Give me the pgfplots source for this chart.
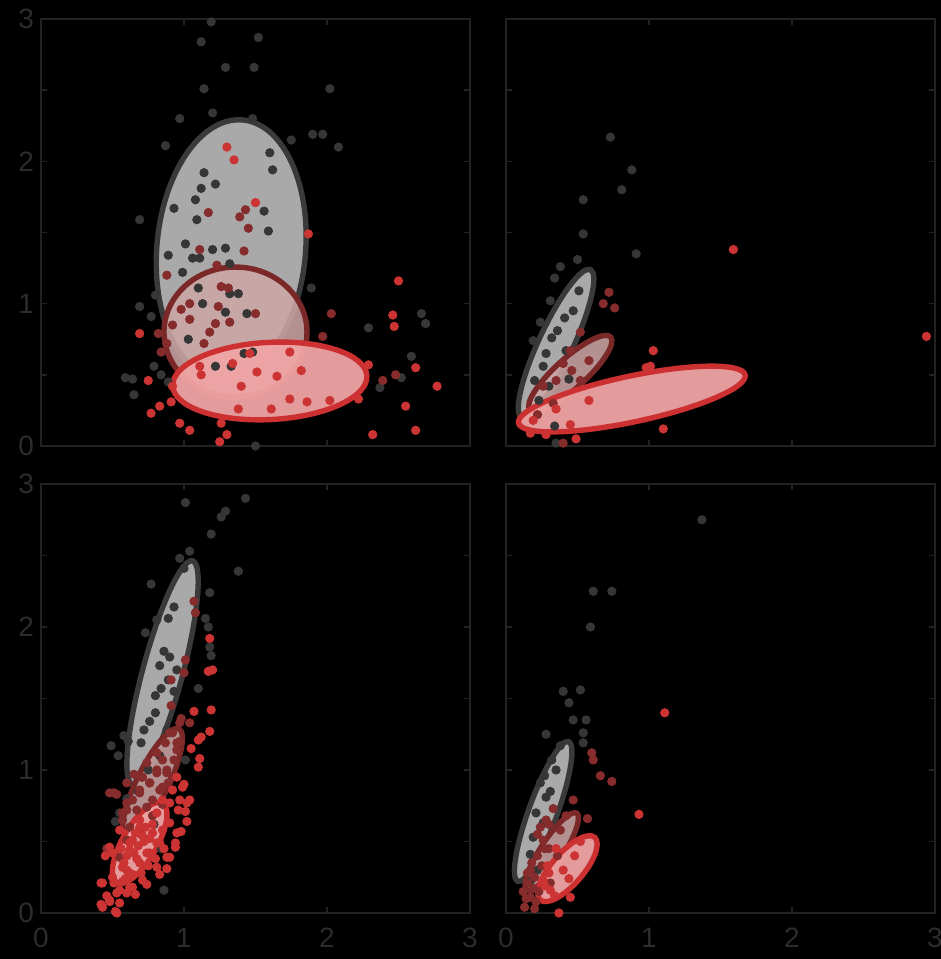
\documentclass[border=0pt]{standalone}
\usepackage{fontspec}
\setmainfont{Liberation Sans}
\usepackage{pgfplots}
\pgfplotsset{compat=1.18}
\definecolor{framec}{HTML}{222222}
\definecolor{ticklab}{HTML}{2C2C2C}
\definecolor{ptgray}{HTML}{363636}
\definecolor{ptdred}{HTML}{862C2C}
\definecolor{ptred}{HTML}{CC3434}
\definecolor{egfill}{HTML}{A9A9A9}
\definecolor{egedge}{HTML}{3A3A3A}
\definecolor{edfill}{HTML}{CCA6A6}
\definecolor{ededge}{HTML}{7A2828}
\definecolor{erfill}{HTML}{F0A4A4}
\definecolor{eredge}{HTML}{CC3030}
\def\U{71.5pt}
\newcommand\GE[5]{\filldraw[fill=egfill, draw=egedge, line width=2.7pt] (axis cs:#1,#2) ellipse [x radius=#3*\U, y radius=#4*\U, rotate=#5];}
\newcommand\DE[5]{\filldraw[fill=edfill, fill opacity=0.88, draw=ededge, line width=2.7pt] (axis cs:#1,#2) ellipse [x radius=#3*\U, y radius=#4*\U, rotate=#5];}
\newcommand\RE[5]{\filldraw[fill=erfill, fill opacity=0.95, draw=eredge, line width=2.7pt] (axis cs:#1,#2) ellipse [x radius=#3*\U, y radius=#4*\U, rotate=#5];}
\pgfplotsset{panel/.style={
  scale only axis, width=214.5pt, height=213.5pt,
  xmin=0, xmax=3, ymin=0, ymax=3,
  axis line style={draw=framec, line width=1pt},
  tick style={draw=framec, line width=0.8pt},
  major tick length=3pt, minor tick length=3pt,
  tick align=inside,
  xtick={0,1,2,3}, ytick={0,1,2,3}, minor ytick={0.5,1.5,2.5},
  ticklabel style={font=\fontsize{14}{16}\selectfont, text=ticklab},
  xticklabel style={yshift=-4pt},
  /pgf/number format/assume math mode=true,
  clip=false, anchor=south west,
},
gp/.style={only marks, mark=*, mark size=2.1pt, color=ptgray},
dp/.style={only marks, mark=*, mark size=2.1pt, color=ptdred},
rp/.style={only marks, mark=*, mark size=2.1pt, color=ptred},
}
\begin{document}
\begin{tikzpicture}
\fill[black] (0,0) rectangle (470.5pt,479.5pt);
% ---------------- top left
\begin{axis}[panel, at={(20.5pt,256.5pt)}, xticklabels={}]
\GE{1.33}{1.38}{0.91}{0.52}{85}
\addplot[gp] table {
1.19 2.98
1.12 2.84
1.52 2.87
1.29 2.66
1.49 2.66
1.14 2.51
2.02 2.51
1.20 2.34
0.97 2.30
1.48 2.30
0.87 2.11
1.75 2.15
1.90 2.19
1.97 2.19
2.08 2.10
1.60 2.06
1.62 1.94
1.14 1.92
1.12 1.81
1.22 1.84
1.08 1.73
0.93 1.67
1.09 1.59
0.69 1.59
1.56 1.65
1.59 1.51
1.01 1.42
0.89 1.34
1.20 1.38
1.29 1.39
1.06 1.32
1.11 1.32
1.32 1.28
0.99 1.22
1.89 1.11
1.10 1.11
1.32 1.07
1.38 1.07
1.13 1.00
0.80 1.06
0.69 0.98
0.77 0.91
1.29 0.94
1.44 0.93
2.66 0.93
2.69 0.86
2.29 0.83
1.03 0.75
2.59 0.63
0.59 0.48
0.65 0.36
2.37 0.41
2.52 0.48
1.50 0.00
0.79 0.56
0.84 0.50
1.42 0.65
1.48 0.66
1.33 0.56
1.22 0.56
0.64 0.47
0.89 0.45
};
\DE{1.36}{0.80}{0.50}{0.455}{0}
\addplot[dp] table {
1.43 1.66
1.39 1.61
1.45 1.53
1.17 1.64
1.11 1.38
1.42 1.37
1.23 1.27
1.26 1.12
1.31 1.11
0.88 1.20
1.04 1.00
0.98 0.96
1.24 0.98
1.50 0.93
1.04 0.89
1.32 0.87
1.22 0.86
2.03 0.93
0.82 0.79
1.18 0.80
1.97 0.77
1.14 0.72
0.84 0.66
2.39 0.46
2.48 0.50
0.88 0.72
0.92 0.85
};
\RE{1.60}{0.457}{0.68}{0.27}{3}
\addplot[rp] table {
0.75 0.46
0.77 0.23
0.83 0.28
0.91 0.31
0.97 0.16
1.04 0.11
1.26 0.16
1.30 0.08
1.25 0.03
1.74 0.33
1.86 0.31
2.02 0.32
2.22 0.33
2.55 0.28
2.32 0.08
2.62 0.11
1.61 0.26
1.38 0.26
1.40 0.42
1.12 0.50
1.51 0.52
1.65 0.49
1.82 0.53
0.92 0.42
1.46 0.65
1.74 0.66
1.11 0.56
1.34 0.58
2.50 1.16
2.46 0.92
2.47 0.84
2.77 0.42
2.62 0.55
2.29 0.57
0.69 0.79
1.30 2.10
1.35 2.01
1.50 1.71
1.87 1.49
};
\end{axis}
% ---------------- top right
\begin{axis}[panel, at={(253pt,256.5pt)}, xticklabels={}, yticklabels={}]
\GE{0.35}{0.72}{0.57}{0.12}{65}
\addplot[gp] table {
0.73 2.17
0.88 1.94
0.81 1.80
0.54 1.73
0.54 1.49
0.91 1.35
0.50 1.31
0.38 1.26
0.34 1.18
0.51 1.09
0.41 0.90
0.36 0.81
0.24 0.87
0.19 0.74
0.32 0.76
0.28 0.65
0.26 0.56
0.20 0.46
0.34 0.14
0.35 0.02
0.30 0.42
0.44 0.47
0.23 0.32
0.42 0.67
0.47 0.95
0.31 1.02
};
\DE{0.45}{0.51}{0.38}{0.105}{42}
\addplot[dp] table {
0.72 1.08
0.68 1.00
0.76 0.97
0.52 0.80
0.45 0.67
0.40 0.58
0.52 0.46
0.35 0.46
0.40 0.02
0.26 0.42
0.46 0.53
0.58 0.60
0.33 0.30
0.22 0.22
};
\RE{0.88}{0.33}{0.81}{0.16}{12}
\addplot[rp] table {
1.59 1.38
2.94 0.77
1.01 0.56
1.03 0.67
0.58 0.32
1.10 0.12
0.49 0.05
0.28 0.08
0.17 0.09
0.45 0.15
0.19 0.18
0.35 0.26
0.98 0.55
};
\end{axis}
% ---------------- bottom left
\begin{axis}[panel, at={(20.5pt,23pt)}, height=214.5pt]
\GE{0.85}{1.68}{0.81}{0.14}{75}
\addplot[gp] table {
1.43 2.90
1.01 2.87
1.29 2.81
1.26 2.77
1.19 2.65
1.04 2.53
0.97 2.48
1.38 2.39
0.77 2.30
1.18 2.24
1.15 2.06
1.17 2.00
0.73 1.96
0.81 2.05
0.89 2.06
1.18 1.86
1.19 1.80
0.86 1.83
0.90 1.79
0.83 1.73
0.95 1.70
0.89 1.63
0.84 1.57
0.93 1.55
1.10 1.57
0.76 1.34
0.58 1.24
0.61 1.20
0.49 1.17
0.54 1.10
0.70 1.19
1.01 1.07
0.52 0.64
0.86 0.16
0.80 1.40
0.72 1.28
0.88 1.28
0.68 0.85
0.60 0.80
0.55 0.70
0.75 1.00
0.83 1.10
0.79 0.62
0.84 0.45
1.00 2.41
0.93 2.14
0.80 1.52
};
\DE{0.78}{0.91}{0.42}{0.11}{64}
\addplot[dp] table {
1.07 2.18
1.08 2.10
1.01 1.77
1.00 1.68
0.91 1.63
0.91 1.45
0.98 1.36
1.04 1.33
0.92 1.26
0.81 1.12
0.74 1.05
0.81 1.00
0.88 0.98
0.76 0.91
0.69 0.86
0.60 0.77
0.67 0.72
0.74 0.74
0.83 0.86
0.93 1.07
0.95 1.19
0.87 1.19
0.89 0.91
0.60 0.91
0.53 0.83
0.65 0.97
0.51 0.84
0.46 0.45
0.62 0.60
0.70 0.55
0.78 0.68
0.85 0.76
0.97 1.20
0.70 0.95
0.57 0.70
0.90 1.26
0.95 1.14
0.85 1.07
0.81 0.98
0.76 0.91
0.69 0.84
0.64 0.79
0.60 0.72
0.57 0.65
0.85 0.88
0.92 0.95
0.71 0.95
0.78 0.79
0.88 1.00
0.97 1.33
0.60 0.51
0.55 0.39
0.48 0.84
};
\RE{0.69}{0.49}{0.32}{0.12}{60}
\addplot[rp] table {
1.18 1.92
1.20 1.70
1.17 1.69
1.19 1.42
1.18 1.27
1.12 1.23
1.10 1.21
1.11 1.08
1.10 1.02
1.07 1.41
1.00 0.90
1.02 0.77
1.01 0.71
1.02 0.64
0.98 0.57
0.94 0.49
0.90 0.39
0.88 0.31
0.83 0.27
0.74 0.20
0.66 0.13
0.53 0.14
0.52 0.01
0.48 0.08
0.42 0.06
0.42 0.21
0.51 0.21
0.60 0.30
0.69 0.35
0.76 0.42
0.81 0.49
0.71 0.54
0.65 0.42
0.58 0.35
0.62 0.49
0.55 0.58
0.69 0.65
0.78 0.62
0.85 0.58
0.90 0.77
0.92 0.86
0.97 0.79
0.45 0.40
0.50 0.25
0.57 0.22
0.62 0.18
0.70 0.28
0.75 0.33
0.80 0.38
0.86 0.45
0.68 0.47
0.73 0.60
0.64 0.27
0.56 0.45
0.95 0.95
1.05 1.15
0.46 0.12
0.55 0.07
0.60 0.40
0.66 0.56
0.99 0.88
1.04 0.79
0.95 0.56
0.94 0.46
0.88 0.39
0.81 0.32
0.71 0.23
0.64 0.18
0.55 0.16
0.43 0.21
0.48 0.09
0.43 0.04
0.53 0.00
0.60 0.14
0.48 0.46
0.50 0.42
0.62 0.44
0.69 0.60
0.81 0.70
0.85 0.79
0.78 0.56
0.64 0.51
0.57 0.32
0.62 0.28
0.74 0.42
0.83 0.49
0.90 0.63
0.96 0.72
0.67 0.38
0.72 0.50
0.76 0.52
0.59 0.24
};
\end{axis}
% ---------------- bottom right
\begin{axis}[panel, at={(253pt,23pt)}, height=214.5pt, yticklabels={}]
\GE{0.26}{0.71}{0.52}{0.10}{70}
\addplot[gp] table {
1.37 2.75
0.61 2.25
0.74 2.25
0.59 2.00
0.40 1.55
0.52 1.56
0.44 1.47
0.47 1.35
0.56 1.35
0.28 1.25
0.54 1.26
0.54 1.19
0.38 1.17
0.32 1.07
0.27 0.96
0.24 0.91
0.28 0.81
0.21 0.70
0.26 0.63
0.19 0.53
0.17 0.41
0.35 1.00
0.31 0.85
0.22 0.30
0.17 0.22
};
\DE{0.32}{0.43}{0.32}{0.08}{57}
\addplot[dp] table {
0.60 1.12
0.61 1.07
0.66 0.96
0.74 0.92
0.47 0.79
0.57 0.66
0.33 0.73
0.28 0.65
0.42 0.68
0.38 0.58
0.26 0.51
0.22 0.40
0.17 0.30
0.15 0.21
0.17 0.11
0.13 0.04
0.20 0.03
0.31 0.21
0.23 0.15
0.30 0.45
0.36 0.40
0.20 0.25
0.12 0.15
0.25 0.33
0.18 0.35
0.22 0.55
0.27 0.45
0.14 0.10
0.19 0.17
0.24 0.60
0.30 0.62
0.15 0.28
0.21 0.08
};
\RE{0.43}{0.31}{0.29}{0.11}{49}
\addplot[rp] table {
1.11 1.40
0.93 0.69
0.45 0.11
0.37 0.00
0.31 0.16
0.26 0.23
0.34 0.12
0.40 0.30
0.48 0.40
0.52 0.50
0.44 0.24
0.29 0.33
0.35 0.45
0.30 0.28
0.27 0.19
};
\end{axis}
\pgfresetboundingbox
\path (0,0) rectangle (470.5pt,479.5pt);
\end{tikzpicture}
\end{document}
